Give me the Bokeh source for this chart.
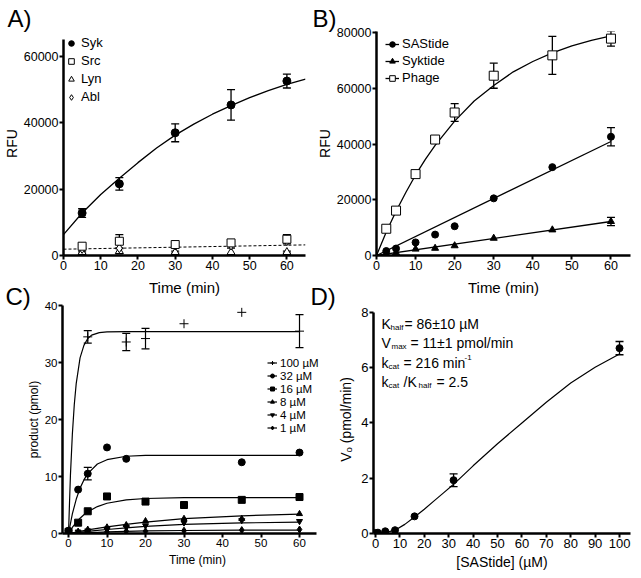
from bokeh.plotting import figure
from bokeh.models import (Range1d, Label, Legend, LegendItem, Whisker, TeeHead,
                          ColumnDataSource, FixedTicker, Title)
from bokeh.layouts import column, row
from bokeh.embed import file_html
from bokeh.resources import INLINE

FONT = "Liberation Sans"

# ---------------- Panel A data ----------------
A_time = [5, 15, 30, 45, 60]
A_syk = [12800, 21600, 37000, 45400, 52600]
A_syk_err = [1300, 1900, 2700, 4600, 2100]
A_src = [2800, 4300, 3300, 3800, 4900]
A_src_err = [500, 2000, 500, 400, 1400]
A_lyn = [1000, 1300, 1000, 1000, 1000]
A_lyn_err = [300, 800, 300, 1200, 300]
A_abl = [2000, 2200, 3000, 3000, 4300]
A_fit_t = [0, 5, 10, 15, 20, 25, 30, 35, 40, 45, 50, 55, 60, 65]
A_fit_syk = [6300, 12800, 18400, 23300, 28000, 32400, 36300, 39600, 42600, 45200, 47600, 49700, 51600, 53200]
A_base_t = [0, 65]
A_base = [1900, 3200]
A_xticks = [0, 10, 20, 30, 40, 50, 60]
A_yticks = [0, 20000, 40000, 60000]

# ---------------- Panel B data ----------------
B_time = [2.5, 5, 10, 15, 20, 30, 45, 60]
B_sas = [1600, 2500, 4700, 7500, 10500, 20500, 31700, 42600]
B_syk = [600, 1000, 2300, 2600, 3500, 6200, 9200, 12200]
B_phage = [9600, 16100, 29200, 41600, 51300, 64500, 71800, 77800]
B_phage_err = [600, 1300, 1200, 1200, 3200, 4500, 6800, 2700]
B_sas_err_t = [60]
B_sas_err = [3300]
B_syk_err_t = [60]
B_syk_err = [1500]
B_fit_t = [0, 2.5, 5, 7.5, 10, 12.5, 15, 20, 25, 30, 35, 40, 45, 50, 55, 60]
B_fit_phage = [0, 8400, 15900, 22600, 28900, 34500, 39500, 48200, 55400, 61000, 65900, 69600, 72700, 75200, 77200, 78800]
B_lin_t = [0, 60]
B_fit_sas = [0, 40900]
B_fit_syk = [0, 12200]
B_xticks = [0, 10, 20, 30, 40, 50, 60]
B_yticks = [0, 20000, 40000, 60000, 80000]

# ---------------- Panel C data ----------------
C_t100 = [5, 15, 20, 30, 45, 60]
C_p100 = [34.5, 33.6, 34.2, 36.8, 38.8, 35.5]
C_e100_t = [5, 15, 20, 60]
C_e100_v = [34.5, 33.6, 34.2, 35.5]
C_e100 = [1.1, 1.5, 1.8, 2.9]
C_t32 = [0, 2.5, 5, 10, 15, 45, 60]
C_p32 = [0.5, 7.7, 10.5, 15.1, 13.1, 12.5, 14.2]
C_e32_t = [5]
C_e32_v = [10.5]
C_e32 = [1.1]
C_t16 = [0, 2.5, 5, 10, 20, 30, 45, 60]
C_p16 = [0.3, 1.9, 3.9, 6.5, 5.6, 5.0, 5.9, 6.4]
C_t = [0, 2.5, 5, 10, 15, 20, 30, 45, 60]
C_p8 = [0.1, 0.35, 0.7, 1.1, 1.5, 2.2, 2.6, 2.6, 3.45]
C_p4 = [0.1, 0.3, 0.5, 0.8, 1.1, 1.4, 1.9, 2.3, 2.15]
C_p1 = [0.05, 0.1, 0.2, 0.3, 0.4, 0.4, 0.5, 0.6, 0.7]
C_fit100_t = [0, 0.5, 1, 1.5, 2, 3, 4, 5, 6, 8, 10, 15, 60]
C_fit100 = [0, 10.2, 17.4, 22.6, 26.3, 30.8, 33.0, 34.2, 34.8, 35.24, 35.36, 35.4, 35.4]
C_fit_t = [0, 1, 2, 3, 4, 5, 7.5, 10, 15, 20, 30, 45, 60]
C_fit32 = [0, 3.45, 6.0, 7.96, 9.4, 10.5, 12.2, 12.95, 13.55, 13.7, 13.7, 13.7, 13.7]
C_fit16 = [0, 1.06, 1.95, 2.68, 3.29, 3.8, 4.72, 5.31, 5.9, 6.14, 6.28, 6.3, 6.3]
C_fit8 = [0, 0.13, 0.26, 0.38, 0.5, 0.62, 0.9, 1.15, 1.6, 2.0, 2.6, 3.1, 3.4]
C_fit4 = [0, 0.08, 0.16, 0.23, 0.3, 0.37, 0.55, 0.7, 1.0, 1.25, 1.6, 1.85, 2.0]
C_fit1 = [0, 0.03, 0.06, 0.09, 0.12, 0.15, 0.21, 0.27, 0.37, 0.45, 0.53, 0.58, 0.6]
C_xticks = [0, 10, 20, 30, 40, 50, 60]
C_yticks = [0, 10, 20, 30, 40]

# ---------------- Panel D data ----------------
D_conc = [0, 1, 4, 8, 16, 32, 100]
D_v = [0.02, 0.03, 0.08, 0.12, 0.62, 1.93, 6.71]
D_err_x = [32, 100]
D_err_v = [1.93, 6.71]
D_err = [0.23, 0.24]
D_fit_x = [0, 4, 8, 12, 16, 20, 24, 28, 32, 40, 50, 60, 70, 80, 90, 100]
D_fit_v = [0, 0.03, 0.12, 0.33, 0.6, 0.88, 1.18, 1.48, 1.78, 2.45, 3.25, 4.0, 4.75, 5.45, 6.02, 6.5]
D_xticks = [0, 10, 20, 30, 40, 50, 60, 70, 80, 90, 100]
D_yticks = [0, 2, 4, 6, 8]


def make_fig(w, h, xr, yr, left, right, top, bottom, xticks, yticks,
             tick_size="13px", transparent=False):
    p = figure(width=w, height=h, x_range=Range1d(*xr), y_range=Range1d(*yr),
               output_backend="svg", toolbar_location=None,
               min_border_left=left, min_border_right=right,
               min_border_top=top, min_border_bottom=bottom)
    p.xgrid.visible = False
    p.ygrid.visible = False
    p.outline_line_color = None
    p.background_fill_color = "white"
    p.border_fill_color = None if transparent else "white"
    p.xaxis.ticker = FixedTicker(ticks=xticks)
    p.yaxis.ticker = FixedTicker(ticks=yticks)
    for ax in (p.xaxis[0], p.yaxis[0]):
        ax.axis_line_width = 2.5
        ax.axis_line_color = "black"
        ax.major_tick_line_width = 2
        ax.major_tick_line_color = "black"
        ax.major_tick_out = 4
        ax.major_tick_in = 0
        ax.minor_tick_line_color = None
        ax.major_label_text_font = FONT
        ax.major_label_text_font_size = tick_size
        ax.major_label_text_color = "black"
        ax.axis_label_text_font = FONT
        ax.axis_label_text_font_style = "normal"
        ax.axis_label_text_color = "black"
        ax.major_label_standoff = 1
        ax.axis_label_standoff = 1
    return p


def add_err(p, xs, ys, es, size=8, width=1.3):
    src = ColumnDataSource(dict(x=xs, lo=[y - e for y, e in zip(ys, es)],
                                hi=[y + e for y, e in zip(ys, es)]))
    w = Whisker(source=src, base="x", lower="lo", upper="hi",
                line_width=width, line_color="black",
                upper_head=TeeHead(size=size, line_width=width, line_color="black"),
                lower_head=TeeHead(size=size, line_width=width, line_color="black"))
    p.add_layout(w)


def txt(p, x, y, s, size, **kw):
    lab = Label(x=x, y=y, x_units="screen", y_units="screen", text=s,
                text_font=FONT, text_font_size=size, text_color="black",
                text_baseline="alphabetic", **kw)
    p.add_layout(lab)
    return lab


def legend(p, items, loc, size, glyph_w, row_h, spacing, standoff=3):
    leg = Legend(items=items, location=loc, orientation="vertical",
                 glyph_width=glyph_w, glyph_height=row_h, label_height=row_h,
                 label_standoff=standoff, spacing=spacing, padding=0, margin=0,
                 border_line_color=None, background_fill_alpha=0,
                 label_text_font=FONT, label_text_font_size=size,
                 label_text_color="black")
    p.add_layout(leg)
    return leg


def panel_title(p, s, offset, standoff):
    t = Title(text=s, align="left", offset=offset, standoff=standoff,
              text_font=FONT, text_font_size="24px", text_font_style="normal",
              text_color="black")
    p.add_layout(t, "above")


empty = dict(x=[], y=[])

# ================= Panel A =================
pA = make_fig(312, 298, (0, 65), (0, 67538), 63, 7, 31, 43, A_xticks, A_yticks,
              tick_size="12.5px")
pA.yaxis.bounds = (0, 65000)
pA.xaxis.axis_label = "Time (min)"
pA.yaxis.axis_label = "RFU"
pA.xaxis.axis_label_text_font_size = "15px"
pA.yaxis.axis_label_text_font_size = "14px"
pA.xaxis.axis_label_standoff = 6
rA_fit = pA.line(A_fit_t, A_fit_syk, line_color="black", line_width=1.3)
pA.line(A_base_t, A_base, line_color="black", line_width=1, line_dash="3 2")
add_err(pA, A_time, A_syk, A_syk_err)
add_err(pA, A_time, A_src, A_src_err)
add_err(pA, A_time, A_lyn, A_lyn_err)
rA_syk = pA.scatter(A_time, A_syk, marker="circle", size=8, fill_color="black", line_color="black")
rA_lyn = pA.scatter(A_time, A_lyn, marker="triangle", size=8, fill_color="white", line_color="black", line_width=1)
rA_abl = pA.scatter(A_time, A_abl, marker="diamond", size=9, fill_color="white", line_color="black", line_width=1)
rA_src = pA.scatter(A_time, A_src, marker="square", size=8, fill_color="white", line_color="black", line_width=1)
lnA = pA.line(x="x", y="y", source=ColumnDataSource(empty), line_color="black", line_width=1)
legend(pA, [LegendItem(label="Syk", renderers=[lnA, rA_syk]),
            LegendItem(label="Src", renderers=[lnA, rA_src]),
            LegendItem(label="Lyn", renderers=[lnA, rA_lyn]),
            LegendItem(label="Abl", renderers=[lnA, rA_abl])],
       (1, 151), "13px", 14, 14, 3)
panel_title(pA, "A)", -56, 0)

# ================= Panel B =================
pB = make_fig(329, 298, (0, 65), (0, 80359), 64, 11, 31, 43, B_xticks, B_yticks,
              tick_size="12.5px")
pB.xaxis.axis_label = "Time (min)"
pB.yaxis.axis_label = "RFU"
pB.xaxis.axis_label_text_font_size = "15px"
pB.yaxis.axis_label_text_font_size = "14px"
pB.xaxis.axis_label_standoff = 6
rB_fp = pB.line(B_fit_t, B_fit_phage, line_color="black", line_width=1.3)
rB_fs = pB.line(B_lin_t, B_fit_sas, line_color="black", line_width=1.3)
rB_fk = pB.line(B_lin_t, B_fit_syk, line_color="black", line_width=1.3)
add_err(pB, B_time, B_phage, B_phage_err)
add_err(pB, B_sas_err_t, [B_sas[-1]], B_sas_err)
add_err(pB, B_syk_err_t, [B_syk[-1]], B_syk_err)
rB_sas = pB.scatter(B_time, B_sas, marker="circle", size=7, fill_color="black", line_color="black")
rB_syk = pB.scatter(B_time, B_syk, marker="triangle", size=7, fill_color="black", line_color="black")
rB_ph = pB.scatter(B_time, B_phage, marker="square", size=9, fill_color="white", line_color="black", line_width=1)
legend(pB, [LegendItem(label="SAStide", renderers=[rB_fs, rB_sas]),
            LegendItem(label="Syktide", renderers=[rB_fk, rB_syk]),
            LegendItem(label="Phage", renderers=[rB_fp, rB_ph])],
       (9, 170), "13px", 14, 14, 2)
panel_title(pB, "B)", -64, 0)

# ================= Panel C =================
pC = make_fig(332, 294, (-1.56, 68.57), (0, 40), 62, 0, 21, 45, C_xticks, C_yticks,
              tick_size="11.5px", transparent=True)
pC.background_fill_color = None
pC.xaxis.bounds = (-1.56, 64.5)
pC.xaxis.axis_label = "Time (min)"
pC.yaxis.axis_label = "product (pmol)"
pC.xaxis.axis_label_text_font_size = "12px"
pC.yaxis.axis_label_text_font_size = "12px"
pC.xaxis.axis_label_standoff = 3
rc100 = pC.line(C_fit100_t, C_fit100, line_color="black", line_width=1.2)
rc32 = pC.line(C_fit_t, C_fit32, line_color="black", line_width=1.2)
rc16 = pC.line(C_fit_t, C_fit16, line_color="black", line_width=1.2)
rc8 = pC.line(C_fit_t, C_fit8, line_color="black", line_width=1.2)
rc4 = pC.line(C_fit_t, C_fit4, line_color="black", line_width=1.2)
rc1 = pC.line(C_fit_t, C_fit1, line_color="black", line_width=1.2)
add_err(pC, C_e100_t, C_e100_v, C_e100, size=8, width=1.2)
add_err(pC, C_e32_t, C_e32_v, C_e32, size=8, width=1.2)
s100 = pC.scatter(C_t100, C_p100, marker="cross", size=9, line_color="black", line_width=1)
s32 = pC.scatter(C_t32, C_p32, marker="circle", size=7, fill_color="black", line_color="black")
s16 = pC.scatter(C_t16, C_p16, marker="square", size=7, fill_color="black", line_color="black")
s8 = pC.scatter(C_t, C_p8, marker="triangle", size=6, fill_color="black", line_color="black")
s4 = pC.scatter(C_t, C_p4, marker="inverted_triangle", size=6, fill_color="black", line_color="black")
s1 = pC.scatter(C_t, C_p1, marker="diamond", size=7, fill_color="black", line_color="black")
legend(pC, [LegendItem(label="100 µM", renderers=[rc100, s100]),
            LegendItem(label="32 µM", renderers=[rc32, s32]),
            LegendItem(label="16 µM", renderers=[rc16, s16]),
            LegendItem(label="8 µM", renderers=[rc8, s8]),
            LegendItem(label="4 µM", renderers=[rc4, s4]),
            LegendItem(label="1 µM", renderers=[rc1, s1])],
       (205, 99), "11.5px", 10, 13, 0)
panel_title(pC, "C)", -57, -8)

# ================= Panel D =================
pD = make_fig(333, 294, (-0.82, 104.5), (0, 8.253), 65, 11, 21, 45, D_xticks, D_yticks,
              transparent=True)
pD.background_fill_color = None
pD.margin = (0, 0, 0, -24)
pD.yaxis.bounds = (0, 8)
pD.xaxis.axis_label = "[SAStide] (µM)"
pD.xaxis.axis_label_text_font_size = "14px"
pD.xaxis.axis_label_standoff = 3
pD.yaxis.axis_label = "Vₒ (pmol/min)"
pD.yaxis.axis_label_text_font_size = "14px"
pD.yaxis.axis_label_standoff = 4
pD.line(D_fit_x, D_fit_v, line_color="black", line_width=1.2)
add_err(pD, D_err_x, D_err_v, D_err)
pD.scatter(D_conc, D_v, marker="circle", size=7, fill_color="black", line_color="black")
panel_title(pD, "D)", -63, -8)
# parameter block
txt(pD, 8, 210, "K", "14px")
txt(pD, 17, 206, "half", "8px")
txt(pD, 31, 210, "= 86±10 µM", "14px")
txt(pD, 8, 191, "V", "14px")
txt(pD, 18, 187, "max", "8px")
txt(pD, 37, 191, "= 11±1 pmol/min", "14px")
txt(pD, 8, 171, "k", "14px")
txt(pD, 15, 167, "cat", "8px")
txt(pD, 30, 171, "= 216 min", "14px")
txt(pD, 91, 176, "-1", "8px")
txt(pD, 8, 152, "k", "14px")
txt(pD, 15, 148, "cat", "8px")
txt(pD, 30, 152, "/K", "14px")
txt(pD, 45, 148, "half", "8px")
txt(pD, 63, 152, "= 2.5", "14px")

layout = column(row(pA, pB), row(pC, pD, margin=(-14, 0, 0, 0)))
open("out.html", "w").write(file_html(layout, INLINE))
